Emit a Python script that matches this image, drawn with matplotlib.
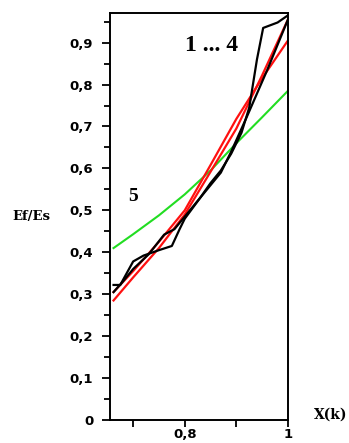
"""
Ef/Es against X(k): four fitted curves (1 ... 4) and the reference curve 5.
"""

import matplotlib
matplotlib.use('agg')
from matplotlib import pyplot as plt
from matplotlib.ticker import MultipleLocator, FixedLocator, FuncFormatter

# curve 5 (green)
x_green = [0.662, 0.70, 0.75, 0.80, 0.85, 0.90, 0.95, 1.00]
y_green = [0.410, 0.443, 0.488, 0.538, 0.595, 0.660, 0.722, 0.785]

# red curves
x_red = [0.662, 0.70, 0.75, 0.80, 0.85, 0.90, 0.95, 1.00]
y_red_a = [0.305, 0.355, 0.425, 0.500, 0.608, 0.718, 0.815, 0.905]
y_red_b = [0.285, 0.340, 0.410, 0.490, 0.592, 0.695, 0.822, 0.955]

# black curves
x_black_a = [0.662, 0.675, 0.70, 0.72, 0.75, 0.775, 0.79, 0.80, 0.83, 0.85,
             0.87, 0.89, 0.91, 0.925, 0.94, 0.952, 0.98, 1.00]
y_black_a = [0.322, 0.322, 0.378, 0.392, 0.405, 0.415, 0.455, 0.480, 0.530, 0.565,
             0.595, 0.635, 0.685, 0.745, 0.860, 0.935, 0.948, 0.965]
x_black_b = [0.662, 0.68, 0.70, 0.73, 0.76, 0.78, 0.80, 0.83, 0.85,
             0.87, 0.89, 0.92, 0.96, 1.00]
y_black_b = [0.305, 0.330, 0.360, 0.395, 0.442, 0.455, 0.485, 0.530, 0.560,
             0.590, 0.640, 0.722, 0.835, 0.955]

y_ticks = [0, 0.1, 0.2, 0.3, 0.4, 0.5, 0.6, 0.7, 0.8, 0.9]
x_ticks = [0.8, 1.0]

fig = plt.figure(figsize=(3.49, 4.43), dpi=100)
ax = fig.add_axes([0.315, 0.052, 0.510, 0.919])

ax.plot(x_green, y_green, color='#22dd22', lw=1.5)
ax.plot(x_red, y_red_a, color='#ff1010', lw=1.6)
ax.plot(x_red, y_red_b, color='#ff1010', lw=1.6)
ax.plot(x_black_a, y_black_a, color='black', lw=1.6)
ax.plot(x_black_b, y_black_b, color='black', lw=1.6)

ax.set_xlim(0.655, 1.0)
ax.set_ylim(0, 0.971)

comma = FuncFormatter(lambda v, p: ('%g' % round(v, 2)).replace('.', ','))
ax.yaxis.set_major_locator(FixedLocator(y_ticks))
ax.yaxis.set_minor_locator(MultipleLocator(0.05))
ax.xaxis.set_major_locator(FixedLocator(x_ticks))
ax.xaxis.set_minor_locator(FixedLocator([0.7, 0.9]))
ax.yaxis.set_major_formatter(comma)
ax.xaxis.set_major_formatter(comma)

ax.tick_params(which='major', direction='out', length=6, width=1.3, pad=6,
               labelsize=9.5)
ax.tick_params(which='minor', direction='out', length=4, width=1.3)
ax.tick_params(axis='x', which='both', length=5)
ax.tick_params(axis='x', which='major', pad=1)
for lab in ax.get_xticklabels() + ax.get_yticklabels():
    lab.set_fontweight('bold')
for s in ax.spines.values():
    s.set_linewidth(1.4)

ax.text(0.852, 0.893, '1 ... 4', fontsize=17, fontweight='bold',
        family='Liberation Serif', ha='center', va='center')
ax.text(0.70, 0.533, '5', fontsize=14, fontweight='bold',
        family='Liberation Serif', ha='center', va='center')
ax.text(-0.44, 0.485, 'Ef/Es', transform=ax.get_yaxis_transform(),
        fontsize=9.5, fontweight='bold', family='DejaVu Serif',
        ha='center', va='center')
ax.text(1.24, 0.012, 'X(k)', transform=ax.get_yaxis_transform(),
        fontsize=10, fontweight='bold', family='DejaVu Serif',
        ha='center', va='center')

plt.savefig('out.png', dpi=100)
plt.close(fig)
